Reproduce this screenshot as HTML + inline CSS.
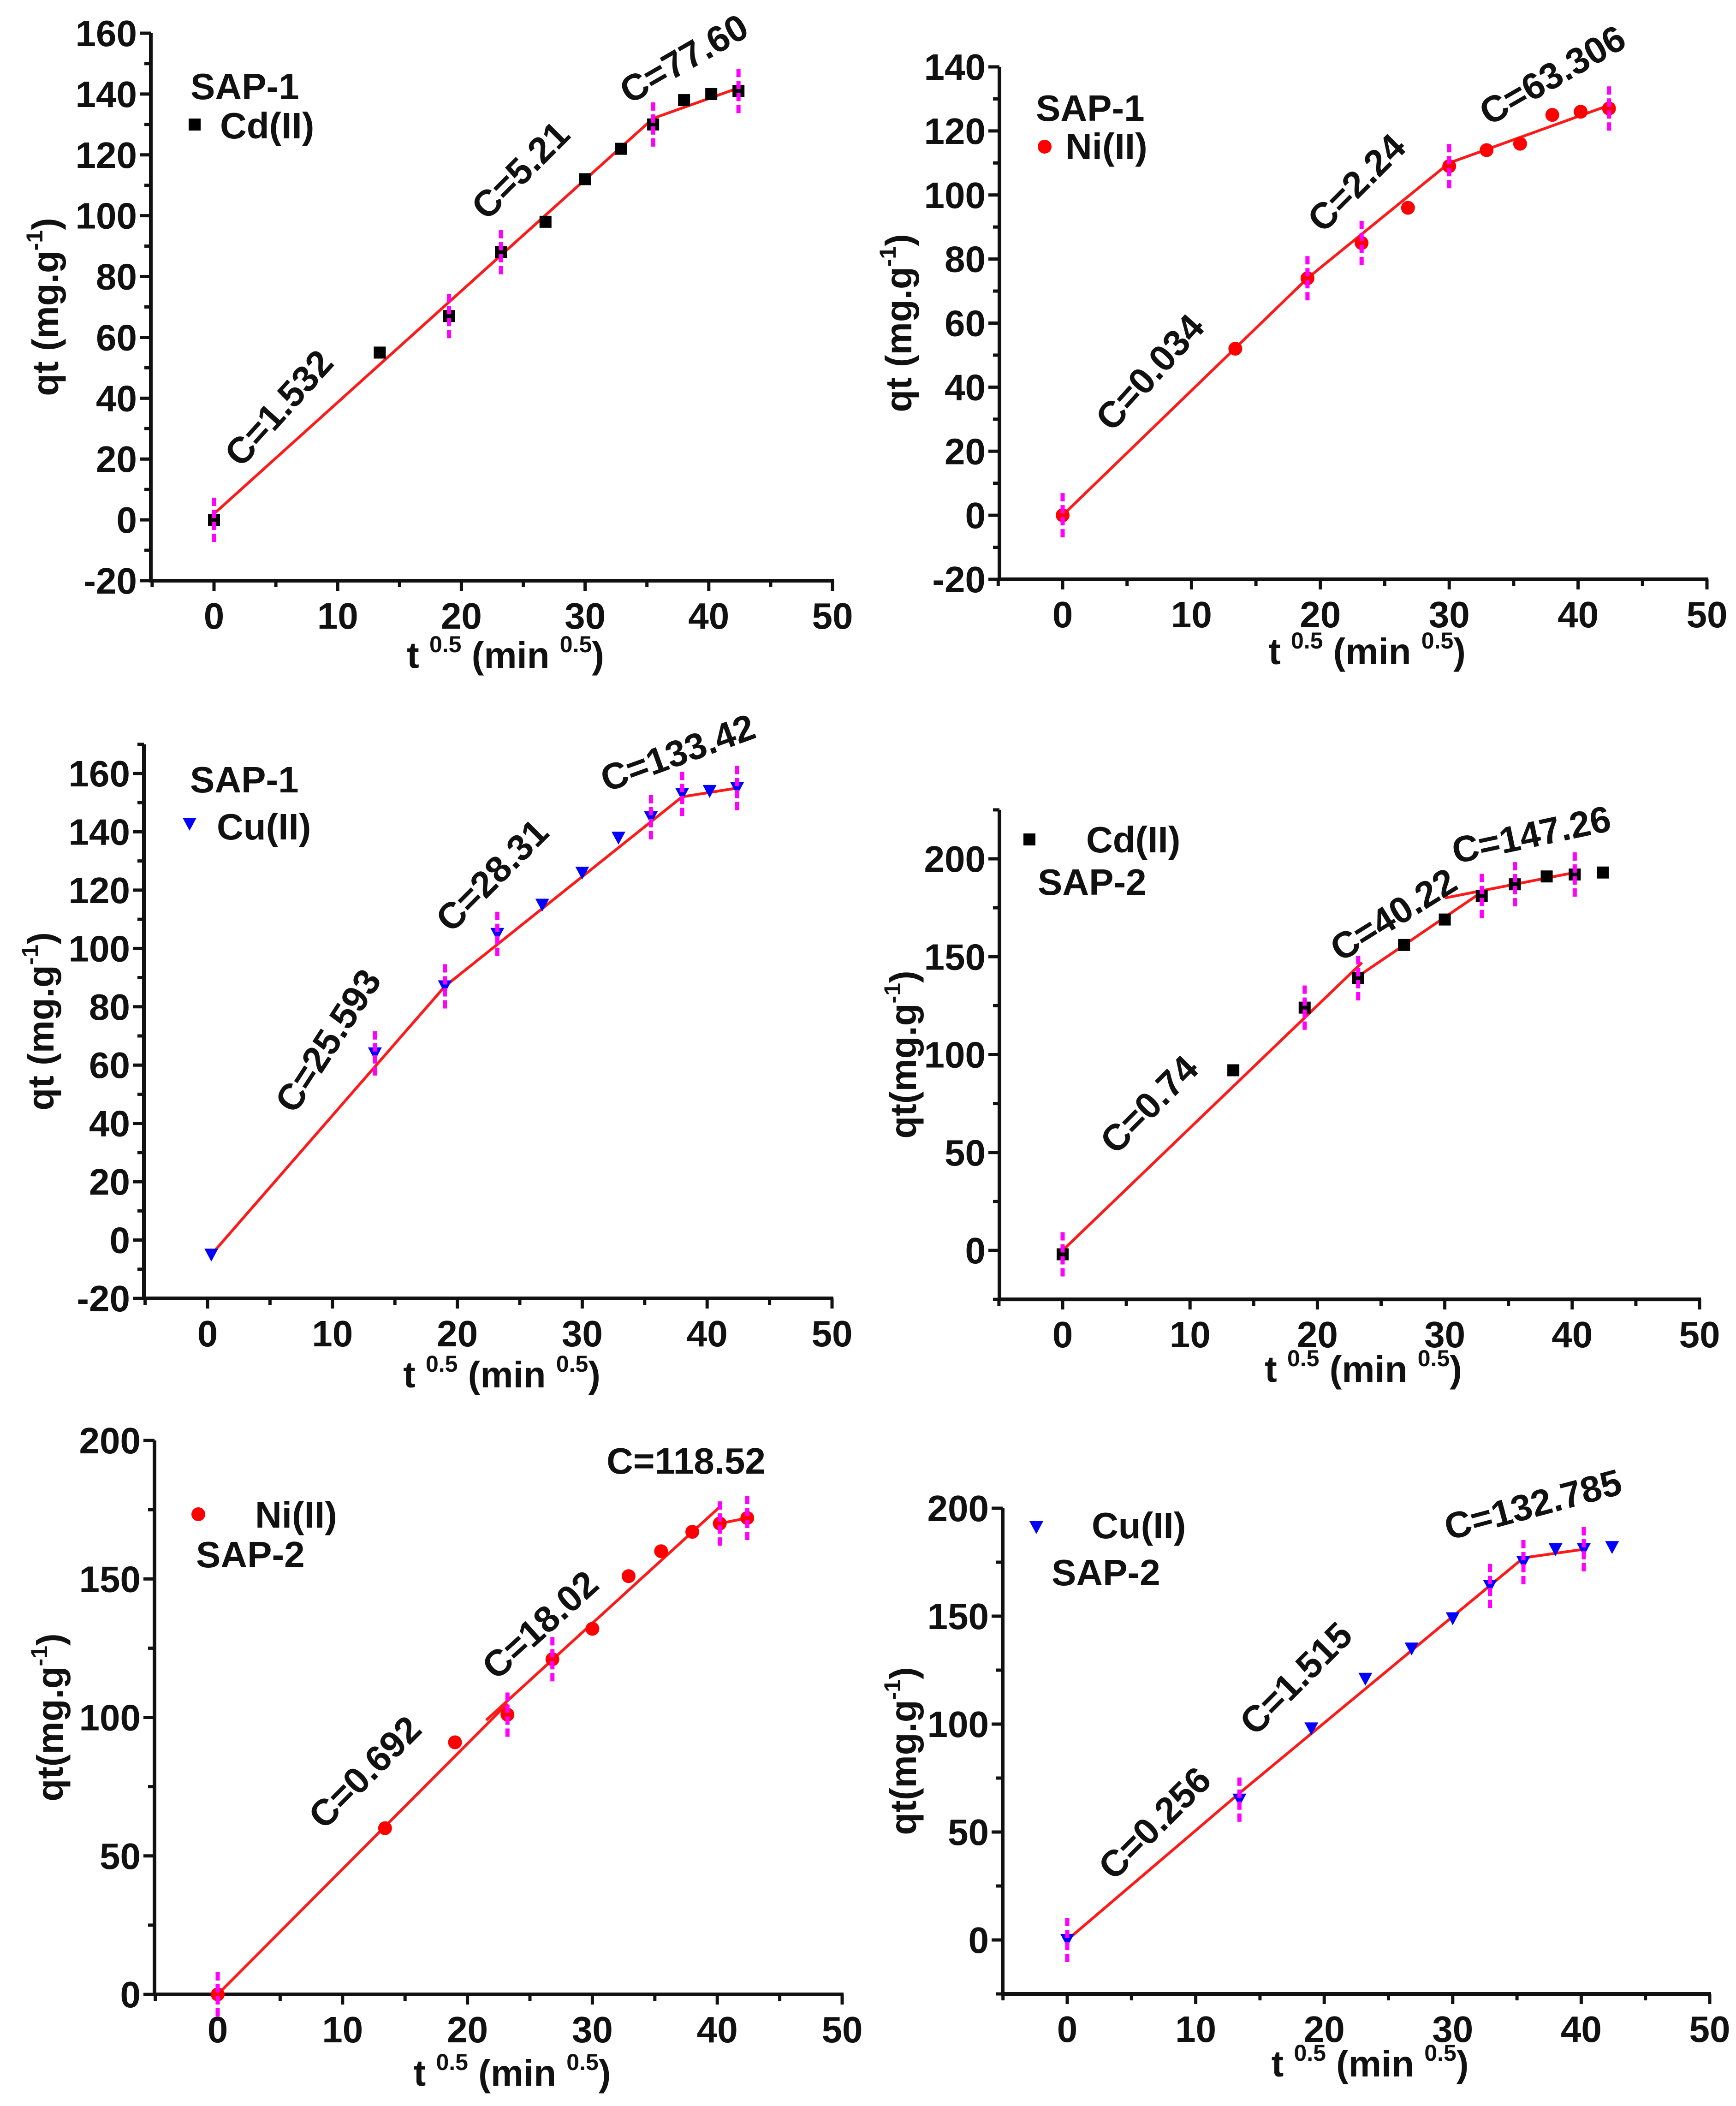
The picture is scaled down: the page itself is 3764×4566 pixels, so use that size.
<!DOCTYPE html>
<html><head><meta charset="utf-8">
<style>
html,body{margin:0;padding:0;background:#fff;}
svg{display:block;font-family:"Liberation Sans",Arial,sans-serif;font-weight:bold;}
svg text{font-weight:bold;}
</style></head>
<body>
<svg id="fig" width="3764" height="4566" viewBox="0 0 3764 4566" xmlns="http://www.w3.org/2000/svg"></svg>
<script>
// shared x values (t^0.5)
const xVals = [0, 13.4, 19, 23.2, 26.8, 30, 32.9, 35.5, 38, 40.2, 42.4];
const xTicks = [0, 10, 20, 30, 40, 50];

// panel 1: SAP-1 Cd(II)
const p1Y = [0, 55, 67, 88, 98, 112, 122, 130, 138, 140, 141];
const p1Err = [1,0,1,1,0,0,0,1,0,0,1];
const p1Fit = [[0,2,23.2,87],[23.2,87,35.5,132],[35.5,132,42.4,142]];
const p1Ticks = [-20,0,20,40,60,80,100,120,140,160];
const p1Notes = [["C=1.532",6,34,-48],["C=5.21",25.5,112,-45],["C=77.60",38.5,148,-30]];

// panel 2: SAP-1 Ni(II)
const p2Y = [0, 52, 74, 85, 96, 109, 114, 116, 125, 126, 127];
const p2Err = [1,0,1,1,0,1,0,0,0,0,1];
const p2Fit = [[0,0,19,74],[19,74,30,110],[30,110,42.4,128]];
const p2Ticks = [-20,0,20,40,60,80,100,120,140];
const p2Notes = [["C=0.034",7.5,42,-48],["C=2.24",23.5,101,-45],["C=63.306",38.5,134,-30]];

// panel 3: SAP-1 Cu(II)
const p3X = [0.3, 13.4, 19, 23.2, 26.8, 30, 32.9, 35.5, 38, 40.2, 42.4];
const p3Y = [-5, 64, 87, 105, 115, 126, 138, 145, 153, 154, 155];
const p3Err = [0,1,1,1,0,0,0,1,1,0,1];
const p3Fit = [[0.3,-5,19,87],[19,87,38,152],[38,152,42.4,155]];
const p3Ticks = [-20,0,20,40,60,80,100,120,140,160];
const p3Notes = [["C=25.593",10.5,66,-57],["C=28.31",23.5,122,-45],["C=133.42",38,163,-20]];

// panel 4: SAP-2 Cd(II)
const p4Y = [-2, 92, 124, 139, 156, 169, 181, 187, 191, 192, 193];
const p4Err = [1,0,1,1,0,0,1,1,0,1,0];
const p4Fit = [[0,0,23.5,147],[23.2,140,32.9,183],[30,180,40.2,193]];
const p4Ticks = [0,50,100,150,200];
const p4Notes = [["C=0.74",7.5,70,-45],["C=40.22",26.5,166,-32],["C=147.26",37,206,-12]];

// panel 5: SAP-2 Ni(II)
const p5Y = [0, 60, 91, 101, 121, 132, 151, 160, 167, 170, 172];
const p5Err = [1,0,0,1,1,0,0,0,0,1,1];
const p5Fit = [[0,0,23.2,105],[21.5,99,40.2,176],[40.2,170,42.4,172]];
const p5Ticks = [0,50,100,150,200];
const p5Notes = [["C=0.692",12.5,77,-45],["C=18.02",26.5,130,-42],["C=118.52",37.5,188,0]];

// panel 6: SAP-2 Cu(II)
const p6Y = [0, 65, 98, 121, 135, 149, 164, 175, 181, 181, 182];
const p6Err = [1,1,0,0,0,0,1,1,0,1,0];
const p6Fit = [[0,0,13.4,68],[13.4,68,35.5,177],[35.5,177,40.2,181]];
const p6Ticks = [0,50,100,150,200];
const p6Notes = [["C=0.256",7.5,50,-45],["C=1.515",18.5,117,-45],["C=132.785",36.5,196,-15]];

const NS = "http://www.w3.org/2000/svg";
const svg = document.getElementById('fig');
function mk(tag, attrs, parent, text){
  const e = document.createElementNS(NS, tag);
  for (const k in attrs) e.setAttribute(k, attrs[k]);
  if (tag==='text') e.setAttribute('font-weight','bold');
  if (text !== undefined) e.textContent = text;
  (parent||svg).appendChild(e);
  return e;
}

const panels = [
  {id:'p1', ax:327, x0:464, x50:1805, yA:160, pA:72, yB:-20, pB:1259, yTop:160, yBot:-20, minor:10,
   xs:xVals, ys:p1Y, err:p1Err, fit:p1Fit, ticks:p1Ticks, notes:p1Notes, marker:'square',
   legend:[['SAP-1',413,215,null],['Cd(II)',477,300,[422,270]]], ylab:'qt (mg.g', ylabX:100, xlabY:1448},
  {id:'p2', ax:2167, x0:2304, x50:3701, yA:140, pA:145, yB:-20, pB:1256, yTop:140, yBot:-20, minor:10,
   xs:xVals, ys:p2Y, err:p2Err, fit:p2Fit, ticks:p2Ticks, notes:p2Notes, marker:'circle',
   legend:[['SAP-1',2246,262,null],['Ni(II)',2310,345,[2265,318]]], ylab:'qt (mg.g', ylabX:1950, xlabY:1440},
  {id:'p3', ax:312, x0:450, x50:1804, yA:160, pA:1677, yB:-20, pB:2815, yTop:170, yBot:-20, minor:10,
   xs:p3X, ys:p3Y, err:p3Err, fit:p3Fit, ticks:p3Ticks, notes:p3Notes, marker:'tri',
   legend:[['SAP-1',412,1718,null],['Cu(II)',470,1820,[411,1786]]], ylab:'qt (mg.g', ylabX:90, xlabY:3008},
  {id:'p4', ax:2167, x0:2304, x50:3685, yA:200, pA:1862, yB:0, pB:2711, yTop:225, yBot:-25, minor:25,
   xs:xVals, ys:p4Y, err:p4Err, fit:p4Fit, ticks:p4Ticks, notes:p4Notes, marker:'square',
   legend:[['Cd(II)',2355,1848,[2232,1820]],['SAP-2',2250,1940,null]], ylab:'qt(mg.g', ylabX:1960, xlabY:2996},
  {id:'p5', ax:335, x0:472, x50:1826, yA:200, pA:3123, yB:0, pB:4324, yTop:200, yBot:0, minor:25,
   xs:xVals, ys:p5Y, err:p5Err, fit:p5Fit, ticks:p5Ticks, notes:p5Notes, marker:'circle',
   legend:[['Ni(II)',553,3312,[430,3283]],['SAP-2',425,3398,null]], ylab:'qt(mg.g', ylabX:110, xlabY:4522},
  {id:'p6', ax:2174, x0:2314, x50:3707, yA:200, pA:3270, yB:0, pB:4206, yTop:200, yBot:-25, minor:25,
   xs:xVals, ys:p6Y, err:p6Err, fit:p6Fit, ticks:p6Ticks, notes:p6Notes, marker:'tri',
   legend:[['Cu(II)',2367,3335,[2247,3311]],['SAP-2',2280,3437,null]], ylab:'qt(mg.g', ylabX:1960, xlabY:4502}
];

function drawMarker(type, cx, cy, g){
  let m;
  if (type==='square') m = mk('rect',{x:cx-13,y:cy-13,width:26,height:26,fill:'#000'},g);
  else if (type==='circle') m = mk('circle',{cx:cx,cy:cy,r:15,fill:'#ff0000'},g);
  else m = mk('polygon',{points:`${cx-15},${cy-13} ${cx+15},${cy-13} ${cx},${cy+15}`,fill:'#0000ff'},g);
  return m;
}

panels.forEach(P=>{
  const sx = v => P.x0 + (v)*(P.x50-P.x0)/50;
  const sy = v => P.pB + (v-P.yB)*(P.pA-P.pB)/(P.yA-P.yB);
  const g = mk('g',{});
  
  
  const axY = sy(P.yBot), axTop = sy(P.yTop);
  const xr = sx(50);
  const ya = mk('line',{x1:P.ax,y1:axTop,x2:P.ax,y2:axY+3,stroke:'#111','stroke-width':8},g);
  
  
  const xa = mk('line',{x1:P.ax-3,y1:axY,x2:xr+3,y2:axY,stroke:'#111','stroke-width':8},g);
  
  
  for (let v=P.yBot; v<=P.yTop+0.01; v+=P.minor){
    const major = P.ticks.includes(v);
    mk('line',{x1:P.ax-(major?24:14),y1:sy(v),x2:P.ax,y2:sy(v),stroke:'#111','stroke-width':7},g);
  }
  P.ticks.forEach(v=>{
    const t = mk('text',{x:P.ax-30,y:sy(v)+28,'text-anchor':'end','font-size':80,fill:'#111'},g,String(v));
    
    
  });
  for (let v=-5; v<=50; v+=5){
    const major = xTicks.includes(v);
    mk('line',{x1:sx(v),y1:axY,x2:sx(v),y2:axY+(major?22:14),stroke:'#111','stroke-width':7},g);
  }
  xTicks.forEach(v=>{
    const t = mk('text',{x:sx(v),y:axY+104,'text-anchor':'middle','font-size':80,fill:'#111'},g,String(v));
    
    
  });
  const xlab = mk('text',{x:(P.ax+xr)/2+30,y:P.xlabY,'text-anchor':'middle','font-size':80,fill:'#111'},g);
  
  
  mk('tspan',{},xlab,'t ');
  mk('tspan',{'font-size':50,dy:-34},xlab,'0.5');
  mk('tspan',{dy:34},xlab,' (min ');
  mk('tspan',{'font-size':50,dy:-34},xlab,'0.5');
  mk('tspan',{dy:34},xlab,')');
  const cy = (axTop+axY)/2;
  const ylab = mk('text',{x:0,y:0,'text-anchor':'middle','font-size':80,fill:'#111',transform:`translate(${P.ylabX+26},${cy}) rotate(-90)`},g);
  
  
  mk('tspan',{},ylab,P.ylab);
  mk('tspan',{'font-size':50,dy:-34},ylab,'-1');
  mk('tspan',{dy:34},ylab,')');
  P.fit.forEach(s=>{
    const l = mk('line',{x1:sx(s[0]),y1:sy(s[1]),x2:sx(s[2]),y2:sy(s[3]),stroke:'#ff1a1a','stroke-width':6},g);
    
    
  });
  P.xs.forEach((xv,i)=>{
    const cx = sx(xv), cyy = sy(P.ys[i]);
    const m = drawMarker(P.marker,cx,cyy,g);
    
    
    if (P.err[i]){
      const e = mk('line',{x1:cx,y1:cyy-48,x2:cx,y2:cyy+48,stroke:'#ff00ff','stroke-width':9,'stroke-dasharray':'18 8'},g);
      
      
    }
  });
  P.notes.forEach(n=>{
    const t = mk('text',{x:0,y:0,'text-anchor':'middle','font-size':80,fill:'#111',transform:`translate(${sx(n[1])},${sy(n[2])}) rotate(${n[3]})`},g,n[0]);
    
    
  });
  P.legend.forEach(L=>{
    const t = mk('text',{x:L[1],y:L[2],'font-size':80,fill:'#111'},g,L[0]);
    
    
    if (L[3]){
      const m = drawMarker(P.marker,L[3][0],L[3][1],g);
      
      
    }
  });
});
</script>
</body></html>
